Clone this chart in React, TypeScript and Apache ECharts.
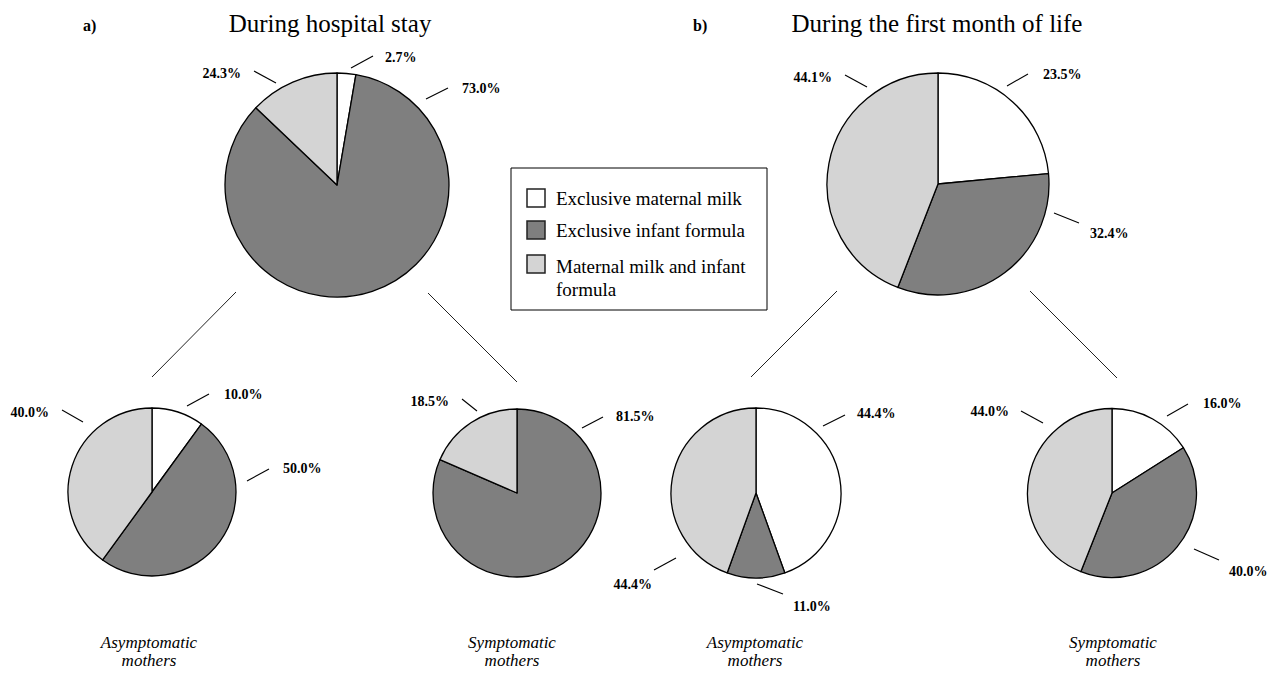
import React, { useEffect, useRef } from "react";
import * as echarts from "echarts";

// ---------- data ----------
const categories = [
  "Exclusive maternal milk",
  "Exclusive infant formula",
  "Maternal milk and infant formula",
];
const legendTexts = [
  "Exclusive maternal milk",
  "Exclusive infant formula",
  "Maternal milk and infant\nformula",
];
const sliceColors = ["#ffffff", "#7f7f7f", "#d4d4d4"];

// a) During hospital stay
const hospitalAll = [2.7, 84.4, 12.9]; // slice sizes as drawn in the figure
const hospitalAllLabels = ["2.7%", "73.0%", "24.3%"]; // percentages printed in the figure
const hospitalAsym = [10.0, 50.0, 40.0];
const hospitalSym = [0, 81.5, 18.5];

// b) During the first month of life
const monthAll = [23.5, 32.4, 44.1];
const monthAsym = [44.4, 11.0, 44.4];
const monthSym = [16.0, 40.0, 44.0];

const panelTags = ["a)", "b)"];
const panelTitles = ["During hospital stay", "During the first month of life"];
const groupNames = ["Asymptomatic\nmothers", "Symptomatic\nmothers"];

const pct = (vals: number[]) => vals.map((v) => v.toFixed(1) + "%");

// ---------- layout ----------
const FONT = '"Liberation Serif", "Times New Roman", Times, serif';

type LP = { x: number; y: number; align: "left" | "right"; line: number[][] };

const pies: {
  values: number[];
  labels: string[];
  center: number[];
  r: number;
  pos: LP[];
}[] = [
  {
    values: hospitalAll,
    labels: hospitalAllLabels,
    center: [337, 185],
    r: 112,
    pos: [
      { x: 385, y: 57, align: "left", line: [[351, 68], [373, 56]] },
      { x: 462, y: 88, align: "left", line: [[426, 99], [448, 88]] },
      { x: 241, y: 73, align: "right", line: [[276, 83], [254, 71]] },
    ],
  },
  {
    values: hospitalAsym,
    labels: pct(hospitalAsym),
    center: [152, 492],
    r: 84,
    pos: [
      { x: 224, y: 394, align: "left", line: [[187, 406], [209, 394]] },
      { x: 283, y: 468, align: "left", line: [[247, 481], [269, 469]] },
      { x: 49, y: 412, align: "right", line: [[83, 422], [62, 410]] },
    ],
  },
  {
    values: hospitalSym,
    labels: pct(hospitalSym),
    center: [517, 493],
    r: 84,
    pos: [
      { x: 0, y: 0, align: "left", line: [[0, 0], [0, 0]] },
      { x: 616, y: 416, align: "left", line: [[582, 428], [603, 417]] },
      { x: 449, y: 401, align: "right", line: [[477, 411], [462, 399]] },
    ],
  },
  {
    values: monthAll,
    labels: pct(monthAll),
    center: [938, 184],
    r: 111,
    pos: [
      { x: 1043, y: 74, align: "left", line: [[1007, 86], [1028, 74]] },
      { x: 1090, y: 233, align: "left", line: [[1054, 213], [1079, 223]] },
      { x: 832, y: 77, align: "right", line: [[867, 87], [845, 75]] },
    ],
  },
  {
    values: monthAsym,
    labels: pct(monthAsym),
    center: [756, 493],
    r: 85,
    pos: [
      { x: 857, y: 413, align: "left", line: [[823, 426], [845, 415]] },
      { x: 793, y: 606, align: "left", line: [[757, 584], [783, 594]] },
      { x: 652, y: 584, align: "right", line: [[676, 558], [654, 570]] },
    ],
  },
  {
    values: monthSym,
    labels: pct(monthSym),
    center: [1112, 493],
    r: 84.5,
    pos: [
      { x: 1203, y: 403, align: "left", line: [[1167, 416], [1188, 404]] },
      { x: 1229, y: 571, align: "left", line: [[1194, 549], [1219, 560]] },
      { x: 1009, y: 411, align: "right", line: [[1043, 423], [1021, 411]] },
    ],
  },
];

const connectors = [
  [236, 292, 152, 377],
  [428, 293, 517, 382],
  [837, 291, 751, 377],
  [1030, 291, 1117, 378],
];

function buildOption() {
  const series = pies.map((p) => {
    const idx = p.values.map((_, i) => i).filter((i) => p.values[i] > 0);
    return {
      type: "pie",
      center: p.center,
      radius: p.r,
      startAngle: 90,
      clockwise: true,
      avoidLabelOverlap: false,
      silent: true,
      emphasis: { disabled: true },
      itemStyle: { borderColor: "#000", borderWidth: 1.3 },
      label: {
        show: true,
        position: "outside",
        formatter: (q: any) => p.labels[idx[q.dataIndex]],
        fontFamily: FONT,
        fontSize: 14,
        fontWeight: "bold",
        color: "#000",
      },
      labelLine: {
        show: true,
        length: 8,
        length2: 8,
        lineStyle: { color: "#000", width: 1.1 },
      },
      labelLayout: (q: any) => {
        const L = p.pos[idx[q.dataIndex]];
        return {
          x: L.x,
          y: L.y,
          align: L.align,
          verticalAlign: "middle",
          labelLinePoints: L.line,
        };
      },
      data: idx.map((i) => ({
        value: p.values[i],
        name: categories[i],
        itemStyle: { color: sliceColors[i] },
      })),
    };
  });

  const graphic: any[] = [];

  // panel tags and titles
  const tagX = [83, 693];
  const titleX = [330, 937];
  panelTags.forEach((t, i) => {
    graphic.push({
      type: "text",
      x: tagX[i],
      y: 25,
      style: {
        text: t,
        font: `bold 16px ${FONT}`,
        fill: "#000",
        textAlign: "left",
        textVerticalAlign: "middle",
      },
    });
    graphic.push({
      type: "text",
      x: titleX[i],
      y: 23,
      style: {
        text: panelTitles[i],
        font: `25px ${FONT}`,
        fill: "#000",
        textAlign: "center",
        textVerticalAlign: "middle",
      },
    });
  });

  // captions under small pies
  const captionX = [149, 512, 755, 1113];
  captionX.forEach((cx, i) => {
    graphic.push({
      type: "text",
      x: cx,
      y: 651,
      style: {
        text: groupNames[i % 2],
        font: `italic 17px ${FONT}`,
        lineHeight: 18,
        fill: "#000",
        textAlign: "center",
        textVerticalAlign: "middle",
      },
    });
  });

  // connector lines
  connectors.forEach((c) => {
    graphic.push({
      type: "line",
      shape: { x1: c[0], y1: c[1], x2: c[2], y2: c[3] },
      style: { stroke: "#222", lineWidth: 1 },
    });
  });

  // legend box
  graphic.push({
    type: "rect",
    shape: { x: 511, y: 168, width: 256, height: 142 },
    style: { fill: "#fff", stroke: "#000", lineWidth: 1 },
  });
  const sqTop = [189, 221, 255];
  const txtY = [198.5, 230.5, 277.5];
  categories.forEach((_, i) => {
    graphic.push({
      type: "rect",
      shape: { x: 527, y: sqTop[i], width: 18, height: 18 },
      style: { fill: sliceColors[i], stroke: "#222", lineWidth: 1.5 },
    });
    graphic.push({
      type: "text",
      x: 556,
      y: txtY[i],
      style: {
        text: legendTexts[i],
        font: `19px ${FONT}`,
        lineHeight: 23,
        fill: "#000",
        textAlign: "left",
        textVerticalAlign: "middle",
      },
    });
  });

  return {
    animation: false,
    backgroundColor: "#ffffff",
    textStyle: { fontFamily: FONT },
    series,
    graphic,
  };
}

export default function App() {
  const ref = useRef<HTMLDivElement>(null);
  useEffect(() => {
    if (!ref.current) return;
    const chart = echarts.init(ref.current, undefined, { renderer: "svg" });
    chart.setOption(buildOption() as any);
    return () => chart.dispose();
  }, []);
  return (
    <div
      ref={ref}
      style={{ position: "absolute", left: 0, top: 0, width: 1276, height: 675, background: "#fff" }}
    />
  );
}
